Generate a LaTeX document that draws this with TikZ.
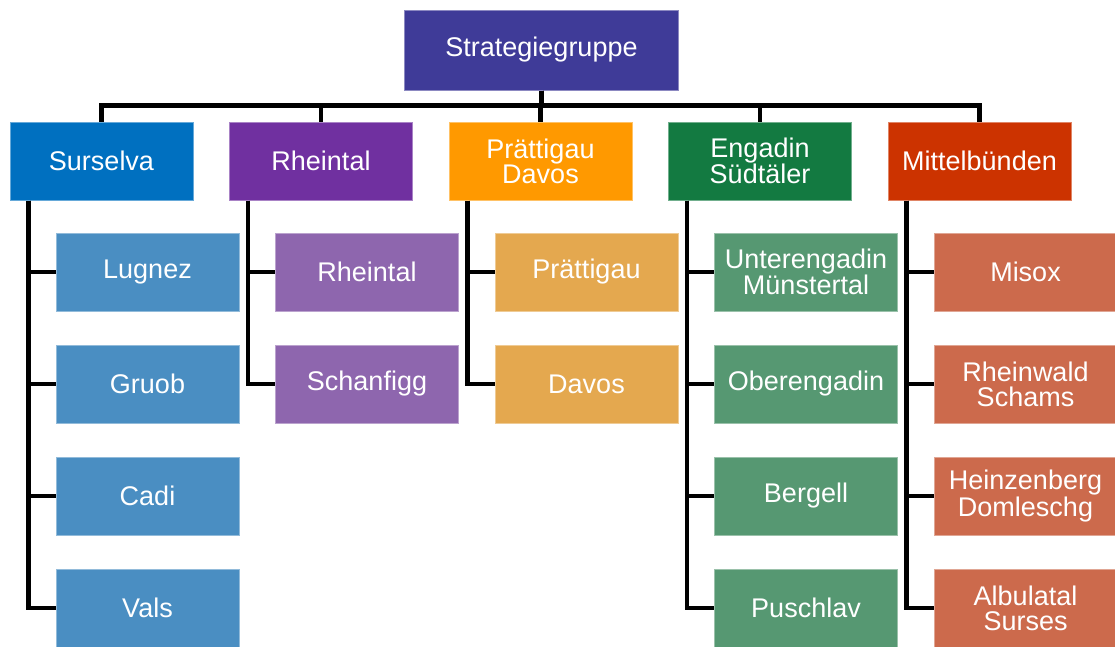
\documentclass[tikz,border=0pt]{standalone}
\usepackage{fontspec}
\setmainfont{Liberation Sans}
\usetikzlibrary{positioning,calc}

\definecolor{topcol}{HTML}{3F3B98}
\definecolor{surcol}{HTML}{0070C0}
\definecolor{rhecol}{HTML}{7030A0}
\definecolor{pracol}{HTML}{FF9900}
\definecolor{engcol}{HTML}{137A41}
\definecolor{mitcol}{HTML}{CC3300}
\definecolor{surkid}{HTML}{4A8EC2}
\definecolor{rhekid}{HTML}{8E66AE}
\definecolor{prakid}{HTML}{E4A84F}
\definecolor{engkid}{HTML}{569872}
\definecolor{mitkid}{HTML}{CC6A4C}

\begin{document}
\begin{tikzpicture}[x=1pt,y=-1pt,
	box/.style={rectangle,minimum width=183pt,minimum height=78pt,inner sep=0pt,
		align=center,text=white,line width=1pt,font=\fontsize{27}{25}\selectfont},
	conn/.style={line width=4.5pt,black}]
	\useasboundingbox (0,0) rectangle (1115,646);
	% top
	\node[box,fill=topcol,draw=topcol!60!white,minimum width=274pt,minimum height=80pt] (sg) at (541.5,50) {Strategiegruppe};
	% regions
	\node[box,fill=surcol,draw=surcol!60!white] (sur) at (101.5,161) {Surselva};
	\node[box,fill=rhecol,draw=rhecol!60!white,right=35.5pt of sur] (rhe) {Rheintal};
	\node[box,fill=pracol,draw=pracol!60!white,right=35.5pt of rhe] (pra) {Prättigau\\Davos};
	\node[box,fill=engcol,draw=engcol!60!white,right=35.5pt of pra] (eng) {Engadin\\Südtäler};
	\node[box,fill=mitcol,draw=mitcol!60!white,right=35.5pt of eng] (mit) {Mittelbünden};
	%
	\node[box,fill=surkid,draw=surkid!60!white] (sur1) at ($(sur)+(46,111)$) {Lugnez};
	\node[box,fill=surkid,draw=surkid!60!white,below=33pt of sur1] (sur2) {Gruob};
	\node[box,fill=surkid,draw=surkid!60!white,below=33pt of sur2] (sur3) {Cadi};
	\node[box,fill=surkid,draw=surkid!60!white,below=33pt of sur3] (sur4) {Vals};
	%
	\node[box,fill=rhekid,draw=rhekid!60!white] (rhe1) at ($(rhe)+(46,111)$) {Rheintal};
	\node[box,fill=rhekid,draw=rhekid!60!white,below=33pt of rhe1] (rhe2) {Schanfigg};
	%
	\node[box,fill=prakid,draw=prakid!60!white] (pra1) at ($(pra)+(46,111)$) {Prättigau};
	\node[box,fill=prakid,draw=prakid!60!white,below=33pt of pra1] (pra2) {Davos};
	%
	\node[box,fill=engkid,draw=engkid!60!white] (eng1) at ($(eng)+(46,111)$) {Unterengadin\\Münstertal};
	\node[box,fill=engkid,draw=engkid!60!white,below=33pt of eng1] (eng2) {Oberengadin};
	\node[box,fill=engkid,draw=engkid!60!white,below=33pt of eng2] (eng3) {Bergell};
	\node[box,fill=engkid,draw=engkid!60!white,below=33pt of eng3] (eng4) {Puschlav};
	%
	\node[box,fill=mitkid,draw=mitkid!60!white] (mit1) at ($(mit)+(46,111)$) {Misox};
	\node[box,fill=mitkid,draw=mitkid!60!white,below=33pt of mit1] (mit2) {Rheinwald\\Schams};
	\node[box,fill=mitkid,draw=mitkid!60!white,below=33pt of mit2] (mit3) {Heinzenberg\\Domleschg};
	\node[box,fill=mitkid,draw=mitkid!60!white,below=33pt of mit3] (mit4) {Albulatal\\Surses};
	% lines
	\foreach \p in {sur,rhe,pra,eng,mit}
		\draw[conn] (sg.south) -- ++(0,15) -| (\p.north);
	\foreach \p/\n in {sur/4,rhe/2,pra/2,eng/4,mit/4}
		\foreach \k in {1,...,\n}
			\draw[conn] ($(\p.south west)+(19,0)$) |- (\p\k.west);
\end{tikzpicture}
\end{document}
